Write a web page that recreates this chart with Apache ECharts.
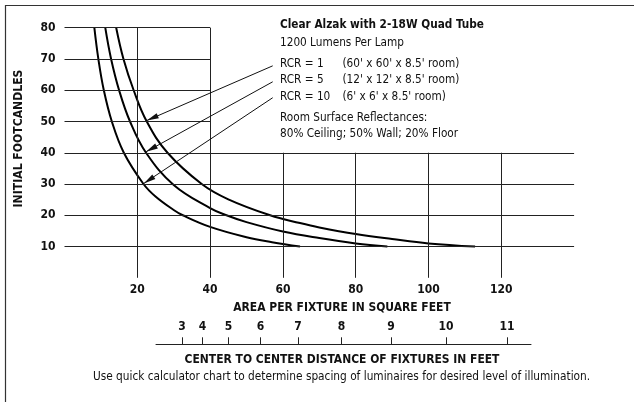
<!DOCTYPE html>
<html>
<head>
<meta charset="utf-8">
<script src="https://cdn.jsdelivr.net/npm/echarts@6.0.0/dist/echarts.min.js"></script>
<style>
  html, body { margin: 0; padding: 0; background: #fff; }
  #main { width: 634px; height: 402px; }
</style>
</head>
<body>
<div id="main"></div>
<script>
// NOTE - data (area in sq ft, footcandles)

const rcr1Curve = [[14.2, 80], [16.2, 70], [19, 60], [22.6, 50], [28.3, 40], [37.7, 30], [45, 25.1],
  [56.5, 20], [64.7, 17.5], [70, 16.1], [80, 14], [90, 12.4], [100, 11], [112.8, 10]];
const rcr5Curve = [[11.2, 80], [12.8, 70], [15, 60], [18, 50], [22.4, 40], [30, 29.7], [40, 22.3],
  [44.5, 20], [50, 17.8], [60, 14.8], [70, 12.7], [80, 11], [88.7, 10]];
const rcr10Curve = [[8.2, 80], [9.3, 70], [10.8, 60], [13, 50], [16.3, 40], [21.7, 30], [25, 26],
  [30, 21.7], [32.5, 20], [40, 16.3], [50, 13], [57, 11.4], [64.7, 10]];

const areaLabels = [20, 40, 60, 80, 100, 120];
const fcLabels = [10, 20, 30, 40, 50, 60, 70, 80];
const spacingLabels = [3, 4, 5, 6, 7, 8, 9, 10, 11];

// grid rows / columns of the drawing
const longRows = [10, 20, 30, 40];
const shortRows = [50, 60, 70, 80];
const tallCols = [20, 40];
const shortCols = [60, 80, 100, 120];

// arrows: tail near the legend text, tip on each curve
const arrowTails = [[57.2, 67.8], [57.2, 62.7], [57.2, 57.6]];
const arrowTips = [[22.6, 50.3], [22.4, 40.3], [21.8, 30.2]];

const rcrNames = ['RCR = 1', 'RCR = 5', 'RCR = 10'];
const roomSizes = ["(60' x 60' x 8.5' room)", "(12' x 12' x 8.5' room)", "(6' x 6' x 8.5' room)"];

// NOTE - chart

const FONT = '"DejaVu Sans Condensed", "Liberation Sans", sans-serif';
var myChart = echarts.init(document.getElementById('main'));

function seg(a, b) {
  return [{ coord: a }, { coord: b }];
}

var gridLines = [];
longRows.forEach(v => gridLines.push(seg([0, v], [140, v])));
shortRows.forEach(v => gridLines.push(seg([0, v], [40, v])));
tallCols.forEach(v => gridLines.push(seg([v, 0], [v, 80])));
shortCols.forEach(v => gridLines.push(seg([v, 0], [v, 40])));

var arrows = arrowTails.map((t, i) => seg(t, arrowTips[i]));

// condensed look: squeeze DejaVu Condensed a bit more
function txt(x, y, text, opts) {
  opts = opts || {};
  return {
    type: 'text', x: x, y: y, scaleX: opts.sx || 0.9, rotation: opts.rot || 0,
    style: {
      text: text, fill: '#111', font: (opts.bold ? 'bold ' : '') + (opts.size || 13) + 'px ' + FONT,
      textAlign: opts.align || 'left', textVerticalAlign: 'middle'
    }
  };
}

var graphics = [
  { type: 'rect', shape: { x: 5.5, y: 5.5, width: 700, height: 500 },
    style: { fill: 'none', stroke: '#333', lineWidth: 1.2 } },
  txt(280, 25, 'Clear Alzak with 2-18W Quad Tube', { bold: true }),
  txt(280, 43, '1200 Lumens Per Lamp'),
  txt(280, 117.5, 'Room Surface Reflectances:'),
  txt(280, 133.5, '80% Ceiling; 50% Wall; 20% Floor'),
  txt(19, 138.5, 'INITIAL FOOTCANDLES', { bold: true, align: 'center', rot: Math.PI / 2, sx: 0.93 }),
  txt(342, 308, 'AREA PER FIXTURE IN SQUARE FEET', { bold: true, align: 'center', sx: 0.92 }),
  txt(342, 360, 'CENTER TO CENTER DISTANCE OF FIXTURES IN FEET', { bold: true, align: 'center', sx: 0.92 }),
  txt(341.5, 377, 'Use quick calculator chart to determine spacing of luminaires for desired level of illumination.',
    { align: 'center', size: 12, sx: 0.98 })
];
rcrNames.forEach((n, i) => {
  var y = [63.5, 80, 97][i];
  graphics.push(txt(280, y, n));
  graphics.push(txt(342.5, y, roomSizes[i]));
});

function curve(name, data) {
  return {
    name: name, type: 'line', data: data, xAxisIndex: 0, yAxisIndex: 0,
    showSymbol: false, smooth: 0.4, silent: true,
    lineStyle: { color: '#000', width: 2 }
  };
}

var option = {
  animation: false,
  textStyle: { fontFamily: FONT },
  graphic: graphics,
  grid: [
    { left: 64.5, right: 59.9, top: 27.7, bottom: 124.2 },
    { left: 156, width: 375, top: 343.3, height: 1 }
  ],
  xAxis: [
    {
      type: 'value', gridIndex: 0, min: 0, max: 140,
      axisLine: { show: false }, axisTick: { show: false }, splitLine: { show: false },
      axisLabel: { customValues: areaLabels, margin: 6, color: '#111', fontWeight: 'bold', fontSize: 12, fontFamily: FONT }
    },
    {
      // distance scale: tick sits at distance squared
      type: 'value', gridIndex: 1, position: 'top', min: 0, max: 129.3,
      axisLine: { show: true, lineStyle: { color: '#222', width: 1 } },
      axisTick: { show: true, length: 7, lineStyle: { color: '#222' }, customValues: spacingLabels.map(d => d * d) },
      splitLine: { show: false },
      axisLabel: { customValues: spacingLabels.map(d => d * d), formatter: v => String(Math.round(Math.sqrt(v))),
        margin: 10, color: '#111', fontWeight: 'bold', fontSize: 12, fontFamily: FONT }
    }
  ],
  yAxis: [
    {
      type: 'value', gridIndex: 0, min: 0, max: 80,
      axisLine: { show: false }, axisTick: { show: false }, splitLine: { show: false },
      axisLabel: { customValues: fcLabels, margin: 9, color: '#111', fontWeight: 'bold', fontSize: 12, fontFamily: FONT }
    },
    { type: 'value', gridIndex: 1, show: false }
  ],
  series: [
    {
      name: 'grid', type: 'line', data: [], xAxisIndex: 0, yAxisIndex: 0, silent: true,
      markLine: {
        silent: true, symbol: ['none', 'none'], label: { show: false },
        lineStyle: { color: '#222', width: 1, type: 'solid' },
        emphasis: { disabled: true },
        data: gridLines
      }
    },
    {
      name: 'arrows', type: 'line', data: [], xAxisIndex: 0, yAxisIndex: 0, silent: true,
      markLine: {
        silent: true, symbol: ['none', 'none'], label: { show: false },
        lineStyle: { color: '#111', width: 1, type: 'solid' },
        emphasis: { disabled: true },
        data: arrows
      }
    },
    curve('RCR = 1', rcr1Curve),
    curve('RCR = 5', rcr5Curve),
    curve('RCR = 10', rcr10Curve)
  ]
};

myChart.setOption(option);

// slim filled arrowheads at the tips, placed through the chart's own scales
var heads = arrowTips.map((tip, i) => {
  var p = myChart.convertToPixel({ gridIndex: 0 }, tip);
  var q = myChart.convertToPixel({ gridIndex: 0 }, arrowTails[i]);
  var dx = q[0] - p[0], dy = q[1] - p[1];
  var len = Math.sqrt(dx * dx + dy * dy);
  var ux = dx / len, uy = dy / len;
  var L = 12, W = 2.8;
  var bx = p[0] + ux * L, by = p[1] + uy * L;
  return {
    type: 'polygon', id: 'head' + i,
    shape: { points: [[p[0], p[1]], [bx - uy * W, by + ux * W], [bx + uy * W, by - ux * W]] },
    style: { fill: '#111' }
  };
});
myChart.setOption({ graphic: heads });
</script>
</body>
</html>
